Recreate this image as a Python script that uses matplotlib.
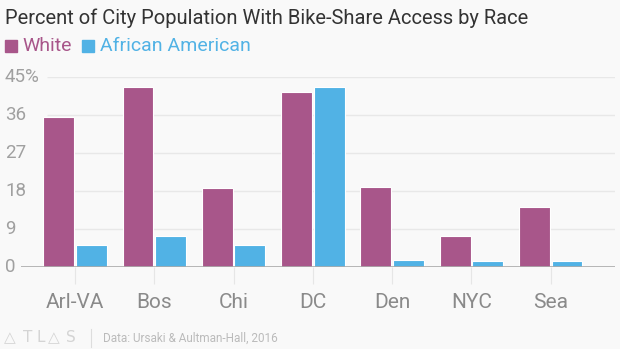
import matplotlib.pyplot as plt
from matplotlib.transforms import blended_transform_factory

plt.rcParams['font.family'] = ['Roboto', 'DejaVu Sans']

cities = ['Arl-VA', 'Bos', 'Chi', 'DC', 'Den', 'NYC', 'Sea']
white = [35.5, 42.6, 18.7, 41.5, 19.0, 7.2, 14.1]
african_american = [5.2, 7.2, 5.2, 42.6, 1.6, 1.4, 1.3]
y_ticks = [0, 9, 18, 27, 36, 45]
y_labels = ['0', '9', '18', '27', '36', '45%']

purple = '#a8568a'
blue = '#51b2e5'
bg = '#f9f9f9'

fig = plt.figure(figsize=(6.2, 3.49), dpi=100, facecolor=bg)
ax = fig.add_axes([0.0339, 0.2358, 0.958, 0.5427], facecolor=bg)

x = range(len(cities))
w = 0.39
ax.bar([i - 0.205 for i in x], white, width=w, color=purple,
       edgecolor='white', linewidth=0.8, zorder=3)
ax.bar([i + 0.205 for i in x], african_american, width=w, color=blue,
       edgecolor='white', linewidth=0.8, zorder=3)

ax.set_xlim(-0.68, 6.81)
ax.set_ylim(0, 45)

# horizontal grid, starting right of the y labels
ax.hlines(y_ticks[1:], -0.353, 6.81, color='#e8e8e8', linewidth=1, zorder=1)
ax.axhline(0, color='#aaaaaa', linewidth=1.2, zorder=4)

for s in ax.spines.values():
    s.set_visible(False)
ax.set_yticks([])
ax.set_xticks(list(x))
ax.set_xticklabels(cities, fontsize=15, color='#8a8a8a')
ax.tick_params(axis='x', length=12, width=0.8, color='#e6e6e6', pad=7)

ylab_tr = blended_transform_factory(fig.transFigure, ax.transData)
for v, lab in zip(y_ticks, y_labels):
    ax.text(5 / 620, v, lab, transform=ylab_tr, fontsize=13.5, color='#a0a0a0',
            ha='left', va='center')

fig.text(5 / 620, 1 - 18 / 349, 'Percent of City Population With Bike-Share Access by Race',
         fontsize=14.5, color='#333333', ha='left', va='center')

# legend row
fig.patches.append(plt.Rectangle((5 / 620, 1 - 52 / 349), 12 / 620, 12 / 349,
                                 transform=fig.transFigure, color=purple))
fig.text(22 / 620, 1 - 46 / 349, 'White', fontsize=14, color=purple,
         ha='left', va='center')
fig.patches.append(plt.Rectangle((82 / 620, 1 - 52 / 349), 12 / 620, 12 / 349,
                                 transform=fig.transFigure, color=blue))
fig.text(100 / 620, 1 - 46 / 349, 'African American', fontsize=14, color=blue,
         ha='left', va='center')

# footer
for px, ch in zip([4, 23, 37, 48, 66], ['\u25b3', 'T', 'L', '\u25b3', 'S']):
    fig.text(px / 620, 1 - 338 / 349, ch, fontsize=11, color='#d4d4d4',
             ha='left', va='center', family=['DejaVu Sans'])
fig.add_artist(plt.Line2D([91 / 620, 91 / 620], [1 - 347 / 349, 1 - 329 / 349],
                          transform=fig.transFigure, color='#dddddd', linewidth=0.8))
fig.text(103 / 620, 1 - 338 / 349, 'Data: Ursaki & Aultman-Hall, 2016', fontsize=8.5,
         color='#bbbbbb', ha='left', va='center')

fig.savefig('out.png', dpi=100, facecolor=bg)
